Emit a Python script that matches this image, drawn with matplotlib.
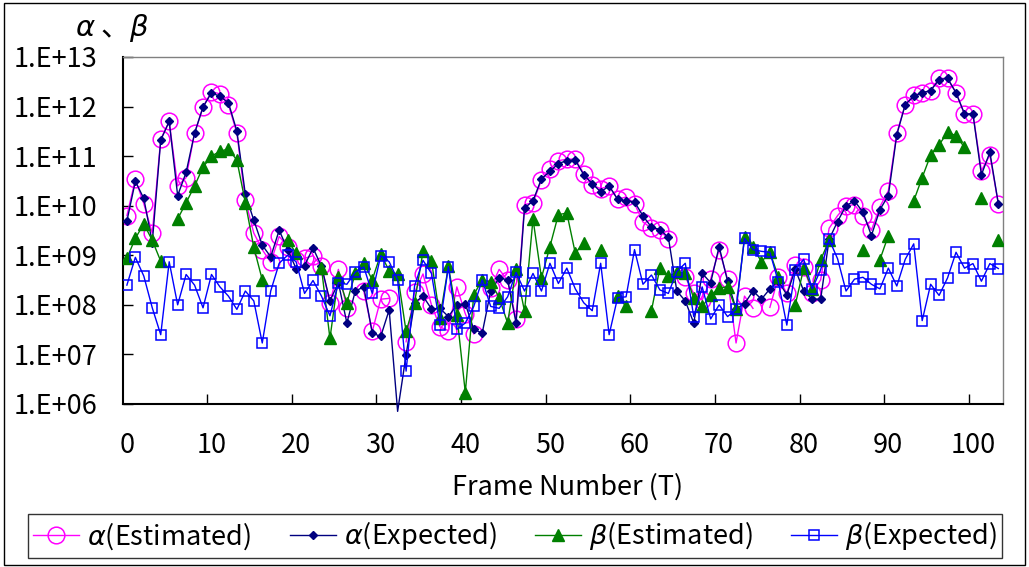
import numpy as np
import matplotlib
matplotlib.use("Agg")
import matplotlib.pyplot as plt
from matplotlib.ticker import FixedLocator, FuncFormatter
from matplotlib.patches import Rectangle

plt.rcParams['font.family'] = ['Noto Sans CJK JP', 'DejaVu Sans']
plt.rcParams['mathtext.fontset'] = 'dejavusans'

nan = np.nan
frames = np.arange(104)

alpha_est = [6.3e9, 3.4e10, 1.1e10, 2.8e9, 2.2e11, 5.0e11, 2.5e10, 3.7e10, 2.9e11, 9.8e11,
             2.0e12, 1.8e12, 1.1e12, 2.9e11, 1.3e10, 2.8e9, 1.3e9, 7.2e8, 2.4e9, 1.5e9,
             8.1e8, 8.7e8, 9.8e8, 6.0e8, 1.1e8, 5.2e8, 8.5e7, nan, 1.9e8, 2.9e7,
             1.3e8, 1.35e8, nan, 1.8e7, 1.8e8, 4.2e8, 1.0e8, 3.6e7, 3.0e7, 2.3e8,
             6.6e7, 2.6e7, nan, 2.2e8, 5.2e8, 3.1e8, 5.1e7, 1.05e10, 1.15e10, 3.3e10,
             5.4e10, 8.1e10, 8.7e10, 8.7e10, 4.4e10, 2.6e10, 2.2e10, 2.5e10, 1.35e10, 1.5e10,
             1.1e10, 4.7e9, 3.5e9, 3.2e9, 2.1e9, nan, 3.6e8, 1.7e8, 1.25e8, 3.3e8,
             1.3e9, 3.3e8, 1.7e7, 1.5e8, 8.5e7, nan, 8.9e7, 3.6e8, 1.7e8, 6.3e8,
             5.9e8, 1.7e8, 3.2e8, 3.5e9, 6.3e9, 1.0e10, 1.05e10, 6.3e9, 3.2e9, 9.5e9,
             2.0e10, 2.9e11, 1.1e12, 1.7e12, 1.9e12, 2.1e12, 3.7e12, 3.7e12, 1.9e12, 7.1e11,
             7.1e11, 5.1e10, 1.05e11, 1.1e10]

alpha_exp = [4.9e9, 3.1e10, 1.4e10, 1.8e9, 2.1e11, 5.0e11, 1.6e10, 4.7e10, 2.9e11, 9.8e11,
             1.9e12, 1.6e12, 1.2e12, 3.2e11, 1.7e10, 5.1e9, 1.6e9, 9.3e8, 3.2e9, 1.3e9,
             5.4e8, 6.2e8, 1.4e9, 6.0e8, 1.2e8, 2.8e8, 4.3e7, 1.9e8, 2.3e8, 2.7e7,
             2.3e7, 7.9e7, 7.1e5, 9.8e6, 1.1e8, 1.5e8, 8.3e7, 8.5e7, 5.8e7, 1.0e8,
             1.05e8, 3.2e7, 2.7e7, 1.9e8, 3.5e8, 3.2e8, 4.3e7, 8.9e9, 1.25e10, 3.5e10,
             4.9e10, 7.1e10, 8.1e10, 8.3e10, 4.2e10, 2.8e10, 1.9e10, 2.5e10, 1.35e10, 1.25e10,
             1.2e10, 6.2e9, 3.7e9, 3.3e9, 2.3e9, 1.9e8, 1.2e8, 4.3e7, 4.3e8, 2.8e8,
             1.5e9, 3.0e8, 8.3e7, 1.05e8, 1.9e8, 1.3e8, 2.1e8, 3.0e8, 1.6e8, 5.2e8,
             1.9e8, 1.3e8, 1.3e8, 2.1e9, 4.8e9, 1.0e10, 1.25e10, 7.4e9, 2.5e9, 8.3e9,
             1.6e10, 2.7e11, 1.1e12, 1.6e12, 1.9e12, 2.1e12, 3.5e12, 3.7e12, 1.9e12, 7.1e11,
             7.1e11, 4.2e10, 1.2e11, 1.1e10]

beta_est = [8.7e8, 2.2e9, 4.3e9, 2.0e9, 7.6e8, nan, 5.4e9, 1.15e10, 2.5e10, 6.0e10,
            1.0e11, 1.25e11, 1.4e11, 8.3e10, 1.15e10, 1.45e9, 3.2e8, nan, nan, 2.0e9,
            1.1e9, nan, nan, 5.5e8, 2.1e7, 3.7e8, 1.1e8, 4.4e8, 6.9e8, 3.2e8,
            1.05e9, 4.9e8, 4.1e8, 2.9e7, 1.1e8, 1.2e9, 7.8e8, 5.5e7, 6.0e8, 6.3e7,
            1.7e6, 1.6e8, 3.2e8, 2.9e8, 1.4e8, 4.3e7, 5.2e8, 7.4e7, 5.4e9, 3.5e8,
            1.5e9, 6.6e9, 7.1e9, 1.1e9, 1.8e9, nan, 1.3e9, nan, 1.5e8, 9.3e7,
            nan, nan, 7.6e7, 5.6e8, 3.8e8, 4.5e8, 4.4e8, 1.35e8, 9.3e7, 1.55e8,
            2.2e8, 2.3e8, 8.1e7, 2.3e9, 1.45e9, 7.4e8, 1.15e9, 3.7e8, nan, 1.0e8,
            5.5e8, 2.1e8, 8.1e8, 2.0e9, nan, nan, nan, 1.3e9, nan, 8.1e8,
            2.5e9, nan, nan, 1.25e10, 3.7e10, 1.05e11, 1.7e11, 3.0e11, 2.6e11, 1.5e11,
            nan, 1.45e10, nan, 2.0e9]

beta_exp = [2.5e8, 9.1e8, 3.8e8, 8.7e7, 2.5e7, 7.4e8, 1.0e8, 4.1e8, 2.5e8, 8.7e7,
            4.1e8, 2.3e8, 1.5e8, 8.1e7, 1.9e8, 1.2e8, 1.7e7, 1.9e8, 6.9e8, 1.0e9,
            7.4e8, 1.7e8, 3.1e8, 1.5e8, 6.0e7, 2.8e8, 2.6e8, 4.6e8, 5.8e8, 1.7e8,
            9.8e8, 7.4e8, 3.2e8, 4.6e6, 2.4e8, 7.9e8, 4.3e8, 3.9e7, 5.9e8, 3.2e7,
            4.3e7, 9.3e7, 3.2e8, 9.3e7, 8.5e7, 1.45e8, 4.5e8, 1.9e8, 4.3e8, 1.9e8,
            6.9e8, 2.7e8, 5.5e8, 2.1e8, 1.1e8, 7.6e7, 6.9e8, 2.5e7, 1.4e8, 1.45e8,
            1.3e9, 2.6e8, 4.0e8, 2.0e8, 1.7e8, 4.7e8, 6.9e8, 5.8e7, 2.3e8, 5.2e7,
            1.0e8, 5.8e7, 8.1e7, 2.2e9, 1.3e9, 1.2e9, 1.15e9, 2.9e8, 3.9e7, 5.1e8,
            8.3e8, 2.1e8, 5.1e8, 2.1e9, 8.5e8, 1.9e8, 3.3e8, 3.6e8, 2.6e8, 2.1e8,
            5.5e8, 2.4e8, 8.3e8, 1.7e9, 4.8e7, 2.6e8, 1.55e8, 3.5e8, 1.15e9, 5.5e8,
            6.8e8, 3.0e8, 6.8e8, 5.4e8]

fig = plt.figure(figsize=(10.29, 5.67), dpi=100)
ax = fig.add_axes([0.1192, 0.2875, 0.8551, 0.612])

ax.plot(frames, alpha_est, color='#FF00FF', lw=1, marker='o', ms=12, mfc='none',
        mec='#FF00FF', mew=1.1, label=r'$\alpha$(Estimated)', zorder=2)
# the expected alpha dips below the axis at one frame; Excel lets the line run past
inside = [i for i, v in enumerate(alpha_exp) if v >= 1e6]
ax.plot(frames, alpha_exp, color='#000080', lw=1, marker='D', ms=4.5, mfc='#000080',
        mec='#000080', markevery=inside, label=r'$\alpha$(Expected)', zorder=3, clip_on=False)
ax.plot(frames, beta_est, color='#008000', lw=1, marker='^', ms=9, mfc='#008000',
        mec='#008000', label=r'$\beta$(Estimated)', zorder=4)
ax.plot(frames, beta_exp, color='#0000FF', lw=1, marker='s', ms=7, mfc='none',
        mec='#0000FF', mew=1.1, label=r'$\beta$(Expected)', zorder=5)

ax.set_yscale('log')
ax.set_ylim(1e6, 1e13)
ax.set_xlim(-0.5, 103.5)

ax.yaxis.set_major_locator(FixedLocator([10.0 ** k for k in range(6, 14)]))
ax.yaxis.set_minor_locator(FixedLocator([]))
ax.yaxis.set_major_formatter(FuncFormatter(lambda v, p: "1.E+%02d" % int(round(np.log10(v)))))

ax.set_xticks(range(0, 101, 10))
ax.set_xticks([9.5 + 10 * k for k in range(10)], minor=True)
ax.tick_params(axis='x', which='major', length=0, pad=20, labelsize=19.5)
ax.tick_params(axis='x', which='minor', length=7, width=1, direction='in')
ax.tick_params(axis='y', which='major', length=7, width=1, direction='in', pad=18, labelsize=19.5)

for s in ['left', 'bottom']:
    ax.spines[s].set_linewidth(1.5)
    ax.spines[s].set_color('black')
for s in ['top', 'right']:
    ax.spines[s].set_linewidth(1)
    ax.spines[s].set_color('#808080')

fig.text(112 / 1029, 1 - 28 / 567, r'$\alpha$ 、$\beta$', ha='center', va='center', fontsize=21)
fig.text(568 / 1029, 1 - 487 / 567, 'Frame Number (T)', ha='center', va='center', fontsize=19.5)

leg = fig.legend(loc='center', bbox_to_anchor=(14 / 1029, 1 - 560 / 567, 1002 / 1029, 48 / 567),
                 mode='expand', ncol=4, fontsize=19.5, frameon=True, fancybox=False,
                 edgecolor='black', handlelength=1.7, handletextpad=0.3, borderpad=0.2,
                 columnspacing=0.5)
leg.get_frame().set_linewidth(1)

fig.patches.append(Rectangle((0.004, 0.004), 0.992, 0.99, transform=fig.transFigure,
                             fill=False, edgecolor='black', lw=1))

fig.savefig('out.png', dpi=100)
